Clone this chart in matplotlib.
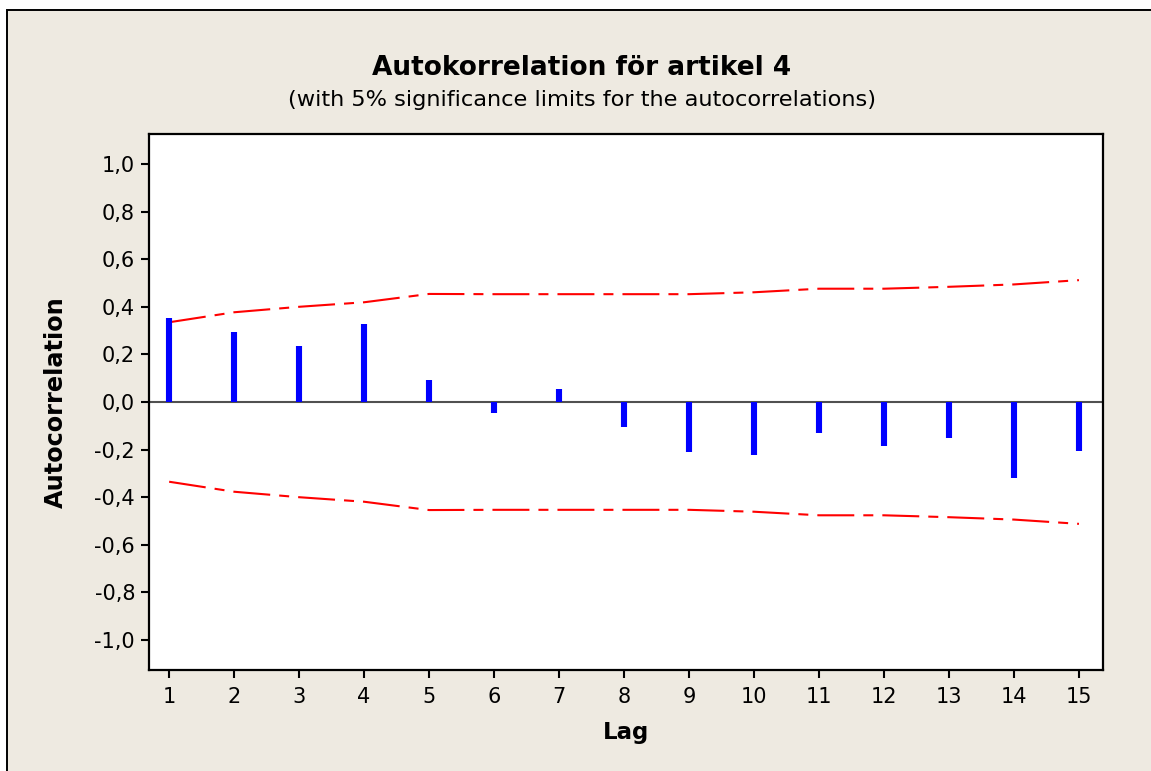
import numpy as np
import matplotlib.pyplot as plt
from matplotlib.patches import Rectangle

# data
lags = np.arange(1, 16)
acf = [0.354, 0.295, 0.237, 0.329, 0.094, -0.048, 0.055, -0.106,
       -0.209, -0.224, -0.132, -0.183, -0.150, -0.318, -0.207]
limit = [0.335, 0.377, 0.400, 0.419, 0.454, 0.453, 0.453, 0.453,
         0.453, 0.461, 0.476, 0.476, 0.484, 0.494, 0.512]
yticks = [-1.0, -0.8, -0.6, -0.4, -0.2, 0.0, 0.2, 0.4, 0.6, 0.8, 1.0]
ytick_labels = ['-1,0', '-0,8', '-0,6', '-0,4', '-0,2', '0,0',
                '0,2', '0,4', '0,6', '0,8', '1,0']

title = 'Autokorrelation för artikel 4'
subtitle = '(with 5% significance limits for the autocorrelations)'

plt.rcParams['font.family'] = 'DejaVu Sans'
plt.rcParams['lines.scale_dashes'] = False

W, H = 1151, 771
beige = '#EEEAE1'
fig = plt.figure(figsize=(W / 100, H / 100), dpi=100)
fig.patch.set_facecolor('white')
# beige panel, border only shows on the left and top (rest is cut off)
fig.patches.append(Rectangle((7 / W, -0.1), 1.2, 1.1 - 10 / H, transform=fig.transFigure,
                             facecolor=beige, edgecolor='black', linewidth=1.4,
                             zorder=-10))

ax = fig.add_axes([149 / W, 1 - 670 / H, (1103 - 149) / W, (670 - 134) / H])
ax.set_facecolor('white')

dash = (0, (26.6, 6.5, 7.2, 6.5))
ax.plot(lags, limit, color='red', lw=1.5, linestyle=dash)
ax.plot(lags, -np.array(limit), color='red', lw=1.5, linestyle=dash)
ax.axhline(0, color='#505050', lw=1.5, zorder=1)
ax.vlines(lags, 0, acf, color='blue', lw=4.4, capstyle='butt', zorder=3)

ax.set_xlim(0.69, 15.37)
ax.set_ylim(-1.126, 1.126)
ax.set_xticks(lags)
ax.set_xticklabels([str(l) for l in lags])
ax.set_yticks(yticks)
ax.set_yticklabels(ytick_labels)
ax.tick_params(axis='both', direction='out', length=6, width=1.5, labelsize=15,
               colors='black')
ax.tick_params(axis='x', pad=6)
ax.tick_params(axis='y', pad=4)
for s in ax.spines.values():
    s.set_linewidth(1.6)
    s.set_color('black')

ax.set_xlabel('Lag', fontsize=16.5, fontweight='bold', va='center')
ax.xaxis.set_label_coords(0.5, -(733 - 670) / 536)
ax.set_ylabel('Autocorrelation', fontsize=17.3, fontweight='bold', va='center')
ax.yaxis.set_label_coords(-(149 - 56) / 954, 0.5)

fig.text(582 / W, 1 - 68 / H, title, ha='center', va='center',
         fontsize=19, fontweight='bold')
fig.text(582 / W, 1 - 100 / H, subtitle, ha='center', va='center', fontsize=16.2)

plt.savefig('out.png', dpi=100, facecolor=fig.get_facecolor())
